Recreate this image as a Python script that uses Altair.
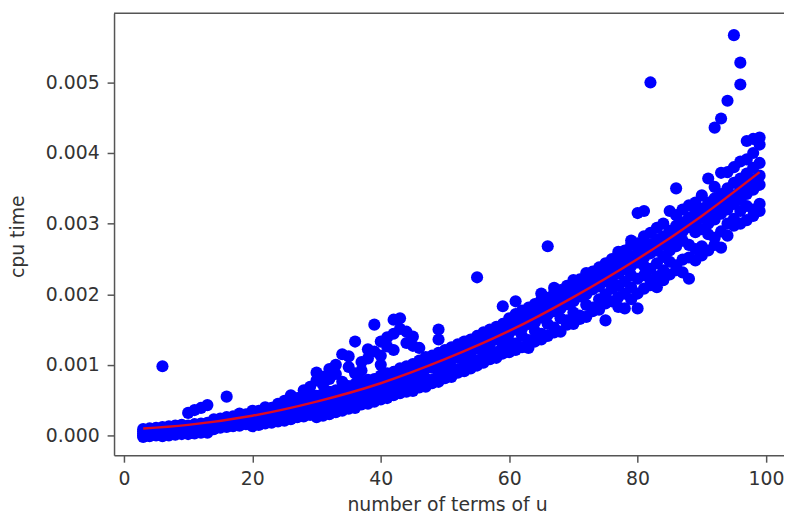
import altair as alt
import pandas as pd

# cpu time values grouped by number of terms (x starts at 3), unit: 1e-5 s
first_terms = 3
cpu_by_terms_e5 = [
    [-2, 0, 3, 6, 9],
    [-1, 2, 4, 8, 10],
    [0, 1, 5, 7, 11],
    [-1, 3, 6, 9, 12, 98],
    [0, 4, 5, 10, 13],
    [1, 2, 7, 9, 14],
    [2, 5, 6, 11, 13, 15],
    [2, 4, 8, 12, 14, 32],
    [3, 7, 9, 12, 16, 36],
    [4, 6, 10, 15, 17, 39],
    [4, 8, 12, 13, 18, 43],
    [9, 12, 17, 20, 23],
    [11, 15, 16, 21, 24],
    [12, 14, 19, 24, 26, 55],
    [13, 18, 20, 22, 27],
    [14, 16, 21, 26, 29, 31],
    [16, 20, 23, 28, 30],
    [13, 19, 25, 27, 33, 35],
    [15, 22, 24, 31, 35],
    [17, 21, 28, 33, 36, 40],
    [18, 25, 29, 31, 39],
    [20, 23, 30, 36, 41, 45],
    [21, 28, 34, 37, 43, 49],
    [23, 27, 36, 41, 44, 57],
    [26, 31, 35, 43, 48, 53],
    [27, 34, 40, 44, 49, 64],
    [29, 33, 42, 47, 53, 69, 60],
    [26, 36, 43, 51, 56, 78, 89],
    [28, 39, 47, 50, 59, 83, 72],
    [30, 37, 45, 54, 62, 94, 80],
    [33, 43, 52, 58, 64, 87, 100],
    [35, 41, 50, 61, 67, 115, 76],
    [38, 48, 56, 59, 70, 112, 97],
    [39, 46, 58, 66, 73, 133, 88],
    [44, 52, 61, 64, 76, 92, 104],
    [45, 55, 60, 71, 79, 122, 109],
    [48, 53, 67, 75, 80, 157, 119],
    [51, 61, 70, 73, 85, 133, 113, 100],
    [53, 59, 72, 80, 88, 139, 126],
    [57, 66, 76, 84, 90, 164, 144, 121],
    [60, 64, 79, 87, 95, 166, 151],
    [62, 72, 83, 89, 98, 147, 131],
    [63, 70, 85, 94, 101, 140, 127],
    [68, 77, 89, 97, 106, 124],
    [69, 81, 95, 100, 111],
    [74, 79, 96, 104, 113],
    [76, 87, 99, 109, 117, 150, 136],
    [81, 91, 104, 111, 121, 119],
    [83, 95, 107, 116, 125],
    [89, 94, 111, 119, 129],
    [91, 102, 116, 122, 133],
    [95, 108, 118, 128, 136],
    [99, 106, 123, 131, 141, 224],
    [103, 115, 128, 134, 146],
    [108, 120, 130, 140, 150],
    [110, 118, 136, 144, 154],
    [116, 128, 140, 149, 158, 183],
    [118, 133, 145, 153, 166],
    [121, 130, 150, 158, 172, 190],
    [125, 141, 152, 164, 177],
    [124, 135, 158, 167, 181],
    [133, 148, 160, 172, 186],
    [136, 144, 167, 178, 192, 201],
    [141, 158, 171, 183, 195, 268],
    [146, 153, 176, 189, 202, 209],
    [147, 166, 180, 193, 206],
    [157, 163, 186, 198, 212],
    [158, 174, 190, 204, 216, 220],
    [165, 170, 197, 209, 221],
    [168, 185, 200, 213, 226, 230],
    [176, 181, 207, 219, 232],
    [178, 193, 211, 225, 238],
    [163, 187, 200, 218, 231, 244],
    [190, 208, 222, 236, 250],
    [182, 196, 212, 229, 241, 256, 260],
    [180, 201, 218, 235, 247, 262],
    [193, 210, 227, 240, 254, 270, 276],
    [180, 201, 222, 245, 258, 272, 315],
    [208, 227, 240, 252, 266, 282, 318],
    [220, 213, 236, 258, 270, 287, 500],
    [210, 225, 244, 262, 277, 294],
    [220, 234, 253, 270, 282, 300],
    [228, 246, 262, 276, 290, 318],
    [234, 241, 268, 282, 297, 312, 350],
    [231, 249, 276, 289, 302, 320],
    [222, 252, 270, 295, 309, 326],
    [248, 264, 288, 300, 316, 330],
    [255, 268, 292, 308, 321, 340],
    [262, 285, 300, 314, 330, 364],
    [270, 280, 306, 321, 336, 352, 436],
    [266, 289, 314, 328, 342, 372, 449],
    [283, 300, 320, 335, 350, 373, 474],
    [297, 307, 328, 340, 358, 380, 567],
    [300, 318, 334, 349, 364, 388, 528, 497],
    [305, 325, 342, 355, 371, 391, 417],
    [311, 320, 348, 362, 379, 400, 420],
    [318, 328, 355, 368, 386, 412, 422],
]

# fitted curve
fit_terms = [3, 10, 20, 30, 40, 50, 60, 70, 80, 90, 99]
fit_cpu_e5 = [10, 15, 28, 48, 74, 108, 148, 196, 250, 311, 373]

x_ticks = [0, 20, 40, 60, 80, 100]
y_ticks = [0.0, 0.001, 0.002, 0.003, 0.004, 0.005]

rows = []
for i, vals in enumerate(cpu_by_terms_e5):
    for v in vals:
        rows.append({"terms": first_terms + i, "cpu": v * 1e-5})
pts = pd.DataFrame(rows)
fit = pd.DataFrame({"terms": fit_terms, "cpu": [v * 1e-5 for v in fit_cpu_e5]})

W, H = 676, 446
xscale = alt.Scale(domain=[-1.54, 102.8], nice=False, zero=False)
yscale = alt.Scale(domain=[-0.00028, 0.00598], nice=False, zero=False)

points = alt.Chart(pts).mark_circle(size=150, color="#0000ff", opacity=1, clip=True).encode(
    x=alt.X("terms:Q", scale=xscale,
            axis=alt.Axis(values=x_ticks, format="d", title="number of terms of u",
                          titleBaseline="alphabetic", titleY=56, titleX=W / 2 - 2)),
    y=alt.Y("cpu:Q", scale=yscale,
            axis=alt.Axis(values=y_ticks, format=".3f", title="cpu time",
                          titleBaseline="middle", titleX=-97, titleY=H / 2 + 2)),
)

line = alt.Chart(fit).mark_line(color="#dc0a24", strokeWidth=2.5, interpolate="natural", clip=True).encode(
    x=alt.X("terms:Q", scale=xscale),
    y=alt.Y("cpu:Q", scale=yscale),
)

top_spine = alt.Chart(pd.DataFrame({"k": [0]})).mark_rule(color="#555555", strokeWidth=1.5).encode(
    x=alt.value(0), x2=alt.value(W), y=alt.value(0),
)

chart = alt.layer(points, line, top_spine).properties(
    width=W, height=H,
    autosize=alt.AutoSizeParams(type="none"),
    padding={"left": 107, "top": 3, "right": 0, "bottom": 58},
).configure_view(stroke=None).configure_axis(
    grid=False,
    domainColor="#555555", domainWidth=1.5,
    tickColor="#555555", tickWidth=1.5, tickSize=7,
    labelFont="DejaVu Sans", labelFontSize=19, labelColor="#333333", labelPadding=8,
    titleFont="DejaVu Sans", titleFontSize=19, titleFontWeight="normal", titleColor="#333333",
)

chart.save("out.html", embed_options={"renderer": "svg", "actions": False})
